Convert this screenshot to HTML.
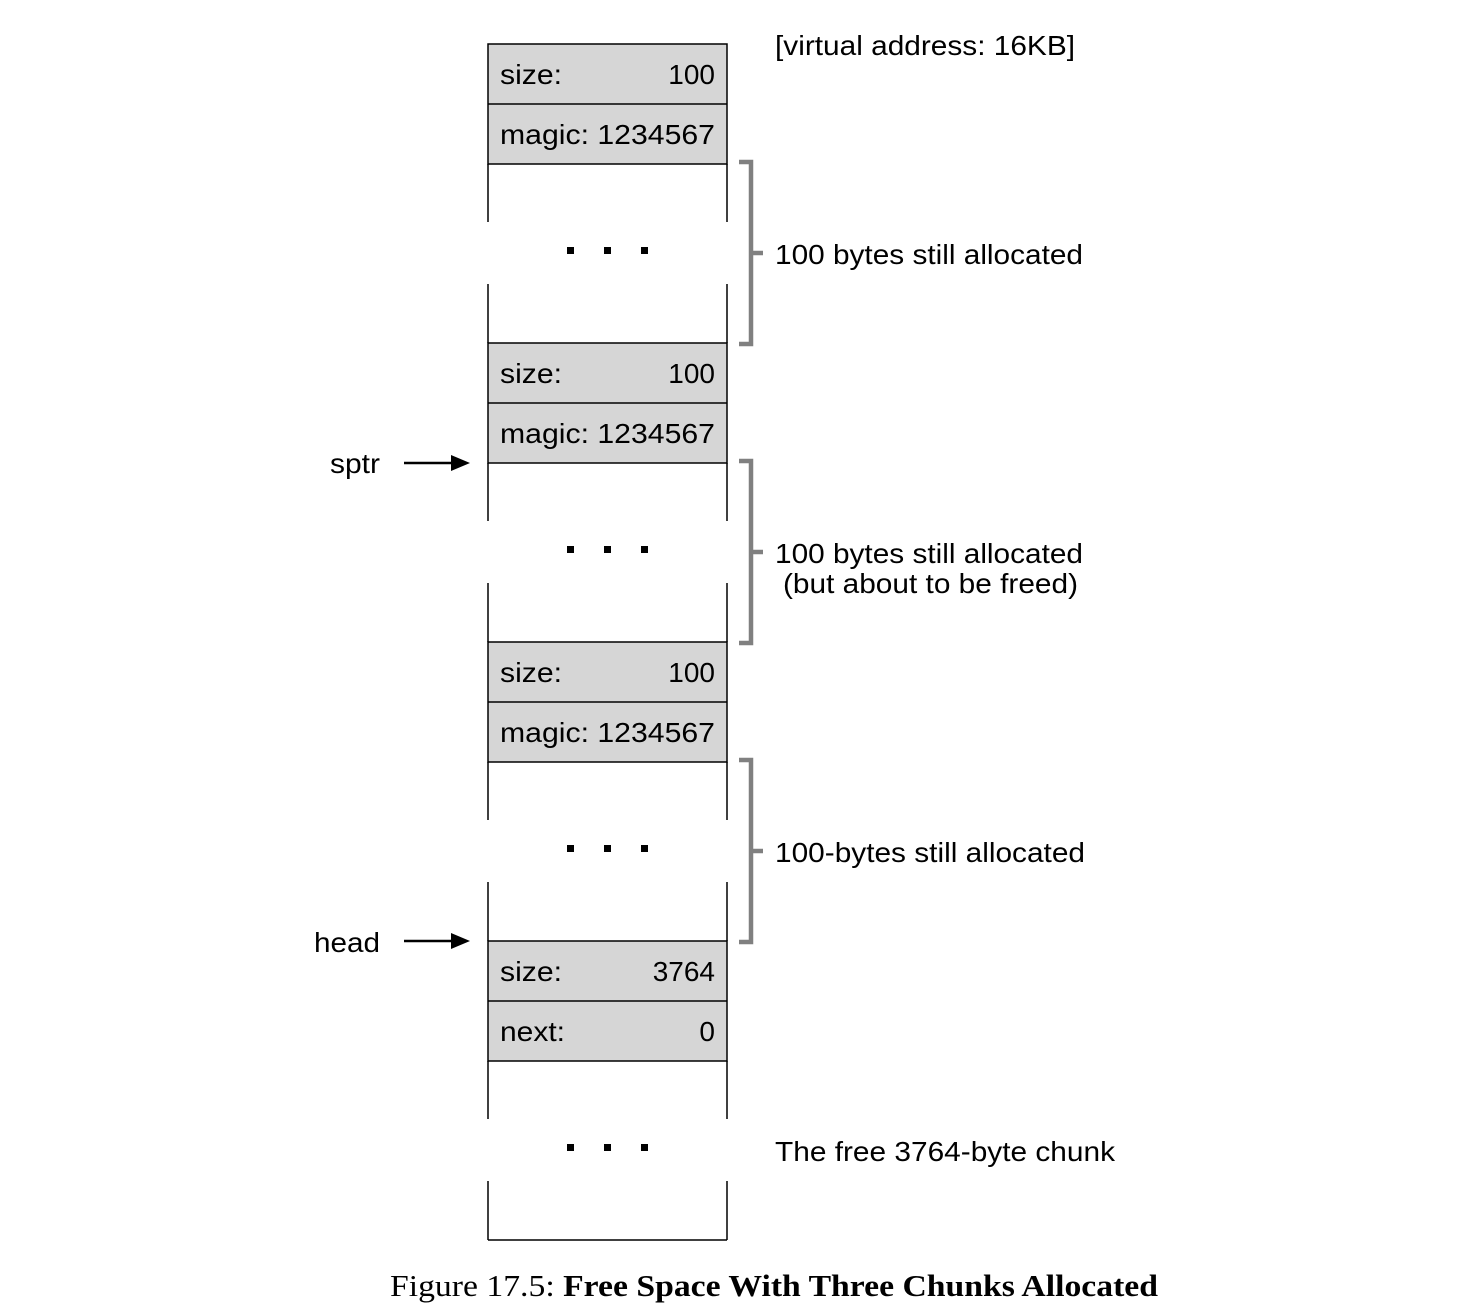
<!DOCTYPE html>
<html><head><meta charset="utf-8"><style>
html,body{margin:0;padding:0;background:#fff;}
svg{display:block;}
text{font-family:"Liberation Sans",Arial,sans-serif;font-size:28px;fill:#000;}
.cap{font-family:"Liberation Serif",serif;font-size:31px;}
</style></head><body>
<svg width="1474" height="1316" viewBox="0 0 1474 1316" xmlns="http://www.w3.org/2000/svg">
<defs>
<g id="blank">
  <line x1="488" y1="0" x2="488" y2="58" stroke="#000" stroke-width="1.5"/>
  <line x1="727" y1="0" x2="727" y2="58" stroke="#000" stroke-width="1.5"/>
  <line x1="488" y1="120" x2="488" y2="179" stroke="#000" stroke-width="1.5"/>
  <line x1="727" y1="120" x2="727" y2="179" stroke="#000" stroke-width="1.5"/>
  <rect x="567" y="83" width="7" height="7" fill="#000"/>
  <rect x="604" y="83" width="7" height="7" fill="#000"/>
  <rect x="641" y="83" width="7" height="7" fill="#000"/>
</g>
<g id="hdr">
  <rect x="488" y="0" width="239" height="120" fill="#d6d6d6" stroke="#000" stroke-width="1.5"/>
  <line x1="488" y1="60" x2="727" y2="60" stroke="#000" stroke-width="1.5"/>
</g>
<path id="br" d="M739 0 H751 V182 H739 M751 91 H763" fill="none" stroke="#808080" stroke-width="4.5"/>
</defs>

<text x="775" y="55" textLength="300" lengthAdjust="spacingAndGlyphs">[virtual address: 16KB]</text>

<use href="#hdr" y="44"/>
<text x="500" y="84" textLength="62" lengthAdjust="spacingAndGlyphs">size:</text><text x="715" y="84" text-anchor="end">100</text>
<text x="500" y="144" textLength="215" lengthAdjust="spacingAndGlyphs">magic: 1234567</text>
<use href="#blank" y="164"/>
<use href="#br" y="162"/>
<text x="775" y="264" textLength="308" lengthAdjust="spacingAndGlyphs">100 bytes still allocated</text>

<use href="#hdr" y="343"/>
<text x="500" y="383" textLength="62" lengthAdjust="spacingAndGlyphs">size:</text><text x="715" y="383" text-anchor="end">100</text>
<text x="500" y="443" textLength="215" lengthAdjust="spacingAndGlyphs">magic: 1234567</text>
<use href="#blank" y="463"/>
<use href="#br" y="461"/>
<text x="775" y="563" textLength="308" lengthAdjust="spacingAndGlyphs">100 bytes still allocated</text>
<text x="783" y="593" textLength="295" lengthAdjust="spacingAndGlyphs">(but about to be freed)</text>

<use href="#hdr" y="642"/>
<text x="500" y="682" textLength="62" lengthAdjust="spacingAndGlyphs">size:</text><text x="715" y="682" text-anchor="end">100</text>
<text x="500" y="742" textLength="215" lengthAdjust="spacingAndGlyphs">magic: 1234567</text>
<use href="#blank" y="762"/>
<use href="#br" y="760"/>
<text x="775" y="862" textLength="310" lengthAdjust="spacingAndGlyphs">100-bytes still allocated</text>

<use href="#hdr" y="941"/>
<text x="500" y="981" textLength="62" lengthAdjust="spacingAndGlyphs">size:</text><text x="715" y="981" text-anchor="end">3764</text>
<text x="500" y="1041" textLength="65" lengthAdjust="spacingAndGlyphs">next:</text><text x="715" y="1041" text-anchor="end">0</text>
<use href="#blank" y="1061"/>
<line x1="488" y1="1240" x2="727" y2="1240" stroke="#000" stroke-width="1.5"/>
<text x="775" y="1161" textLength="340" lengthAdjust="spacingAndGlyphs">The free 3764-byte chunk</text>

<text x="330" y="473" textLength="50" lengthAdjust="spacingAndGlyphs">sptr</text>
<line x1="404" y1="463" x2="455" y2="463" stroke="#000" stroke-width="2.5"/>
<polygon points="470,463 451,455 451,471" fill="#000"/>
<text x="314" y="952" textLength="66" lengthAdjust="spacingAndGlyphs">head</text>
<line x1="404" y1="941" x2="455" y2="941" stroke="#000" stroke-width="2.5"/>
<polygon points="470,941 451,933 451,949" fill="#000"/>

<text class="cap" x="390" y="1296" textLength="768" lengthAdjust="spacingAndGlyphs">Figure 17.5: <tspan font-weight="bold">Free Space With Three Chunks Allocated</tspan></text>
</svg>
</body></html>
